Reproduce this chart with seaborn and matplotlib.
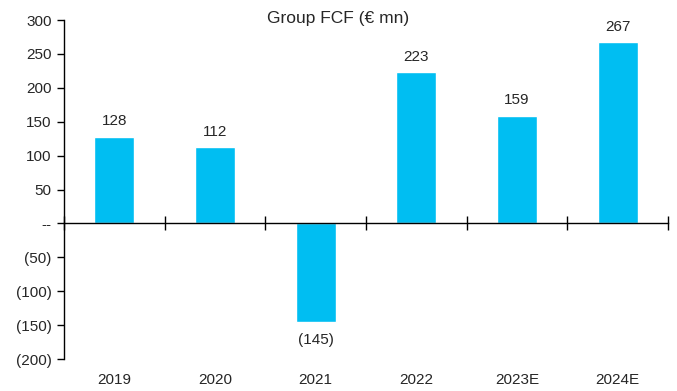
import matplotlib
matplotlib.use("Agg")
import matplotlib.pyplot as plt
import seaborn as sns
import pandas as pd

years = ["2019", "2020", "2021", "2022", "2023E", "2024E"]
fcf = [128, 112, -145, 223, 159, 267]
ytick_values = [300, 250, 200, 150, 100, 50, 0, -50, -100, -150, -200]


def fmt(v):
    if v == 0:
        return "--"
    return f"({abs(v)})" if v < 0 else f"{v}"


sns.set_style("white")
plt.rcParams["font.family"] = ["Liberation Sans", "DejaVu Sans"]
plt.rcParams["font.size"] = 11

df = pd.DataFrame({"year": years, "fcf": fcf})

fig = plt.figure(figsize=(6.77, 3.91), dpi=100)
ax = fig.add_axes([0.0945, 0.0818, 0.8922, 0.867])

sns.barplot(data=df, x="year", y="fcf", color="#00BEF2", width=0.4,
            saturation=1, ax=ax)

ax.set_xlim(-0.5, len(years) - 0.5)
ax.set_ylim(-200, 300)
ax.set_xlabel("")
ax.set_ylabel("")

# y axis
ax.set_yticks(ytick_values)
ax.set_yticklabels([fmt(v) for v in ytick_values])
ax.tick_params(axis="y", direction="out", length=5, width=1, color="black",
               labelsize=11, pad=4, left=True)

# category axis runs through zero with boundary ticks
for s in ["top", "right"]:
    ax.spines[s].set_visible(False)
ax.spines["bottom"].set_position(("data", 0))
ax.spines["left"].set_color("black")
ax.spines["bottom"].set_color("black")
ax.spines["left"].set_linewidth(1)
ax.spines["bottom"].set_linewidth(1)
ax.set_xticks([i - 0.5 for i in range(len(years) + 1)])
ax.set_xticklabels([])
ax.tick_params(axis="x", direction="inout", length=10, width=1, color="black",
               bottom=True)

sec = ax.secondary_xaxis(location=0)
sec.set_xticks(range(len(years)))
sec.set_xticklabels(years)
sec.tick_params(length=0, labelsize=11, pad=10)
sec.spines["bottom"].set_visible(False)

# value labels
for i, v in enumerate(fcf):
    if v >= 0:
        ax.annotate(fmt(v), (i, v), xytext=(0, 6), textcoords="offset points",
                    ha="center", va="bottom", fontsize=11)
    else:
        ax.annotate(fmt(v), (i, v), xytext=(0, -8), textcoords="offset points",
                    ha="center", va="top", fontsize=11)

fig.text(0.5, 1 - 18 / 391, "Group FCF (\u20ac mn)", fontsize=12.5,
         ha="center", va="center")

fig.savefig("out.png", dpi=100)
